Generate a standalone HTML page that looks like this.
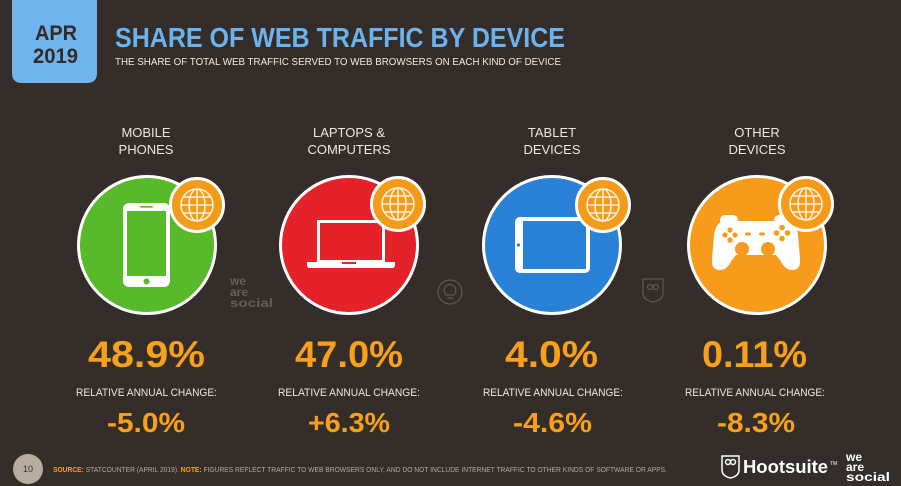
<!DOCTYPE html>
<html><head><meta charset="utf-8"><style>
html,body{margin:0;padding:0;background:#342d29;}
svg{display:block;}
text{font-family:"Liberation Sans",sans-serif;}
</style></head><body>
<svg width="901" height="486" viewBox="0 0 901 486" xmlns="http://www.w3.org/2000/svg">
<defs>
<g id="globe">
  <circle cx="0" cy="0" r="26.5" fill="#f59b1a" stroke="#fff" stroke-width="3"/>
  <g fill="none" stroke="#fdf0dc" stroke-width="1.5">
    <circle cx="0" cy="0" r="16"/>
    <ellipse cx="0" cy="0" rx="8" ry="16"/>
    <line x1="0" y1="-16" x2="0" y2="16"/>
    <line x1="-16" y1="0" x2="16" y2="0"/>
    <line x1="-13.9" y1="-8" x2="13.9" y2="-8"/>
    <line x1="-13.9" y1="8" x2="13.9" y2="8"/>
  </g>
</g>
</defs>
<rect width="901" height="486" fill="#342d29"/>

<!-- badge -->
<path d="M12,0 H97 V73 Q97,83 87,83 H22 Q12,83 12,73 Z" fill="#6fb4ec"/>
<text x="35" y="40" font-size="21" font-weight="bold" fill="#332b27" textLength="42" lengthAdjust="spacingAndGlyphs">APR</text>
<text x="33" y="63" font-size="21" font-weight="bold" fill="#332b27" textLength="45" lengthAdjust="spacingAndGlyphs">2019</text>

<!-- title -->
<text x="115" y="47" font-size="28" font-weight="bold" fill="#6cb3ee" textLength="450" lengthAdjust="spacingAndGlyphs">SHARE OF WEB TRAFFIC BY DEVICE</text>
<text x="115" y="65" font-size="10" fill="#efe9e3" textLength="446" lengthAdjust="spacingAndGlyphs">THE SHARE OF TOTAL WEB TRAFFIC SERVED TO WEB BROWSERS ON EACH KIND OF DEVICE</text>

<!-- category labels -->
<g font-size="13" fill="#ebe6e1" text-anchor="middle">
  <text x="146" y="137">MOBILE</text><text x="146" y="154">PHONES</text>
  <text x="349" y="137">LAPTOPS &amp;</text><text x="349" y="154">COMPUTERS</text>
  <text x="552" y="137">TABLET</text><text x="552" y="154">DEVICES</text>
  <text x="757" y="137">OTHER</text><text x="757" y="154">DEVICES</text>
</g>

<!-- circles -->
<circle cx="147" cy="245" r="68.5" fill="#58b92b" stroke="#fff" stroke-width="3"/>
<circle cx="349" cy="245" r="68.5" fill="#e5212a" stroke="#fff" stroke-width="3"/>
<circle cx="552" cy="245" r="68.5" fill="#2a82d8" stroke="#fff" stroke-width="3"/>
<circle cx="757" cy="245" r="68.5" fill="#f69b1b" stroke="#fff" stroke-width="3"/>

<!-- phone -->
<rect x="123" y="203" width="47" height="84" rx="6" fill="#fff"/>
<rect x="127" y="211" width="39" height="65" fill="#58b92b"/>
<rect x="140" y="206" width="13" height="1.6" rx="0.8" fill="#58b92b"/>
<circle cx="146.5" cy="281.5" r="3" fill="#58b92b"/>

<!-- laptop -->
<rect x="318.5" y="221.5" width="65" height="40" fill="none" stroke="#fff" stroke-width="3"/>
<path d="M307,262 H395 V265 Q395,268 392,268 H310 Q307,268 307,265 Z" fill="#fff"/>
<rect x="342" y="262" width="14" height="2" fill="#e5212a"/>

<!-- tablet -->
<rect x="515" y="217" width="75" height="56" rx="5" fill="#fff"/>
<rect x="523" y="221" width="63" height="48" fill="#2a82d8"/>
<circle cx="518.5" cy="245" r="1.6" fill="#2a82d8"/>

<!-- gamepad -->
<g transform="translate(712,215)">
  <rect x="8" y="0" width="18" height="12" rx="5" fill="#fff"/>
  <rect x="62" y="0" width="18" height="12" rx="5" fill="#fff"/>
  <path d="M14,6 H74 Q84,6 86,20 L88,44 Q89,55 80,55 Q73,55 68,45 L64,40 H24 L20,45 Q15,55 8,55 Q-1,55 0,44 L2,20 Q4,6 14,6 Z" fill="#fff"/>
  <g fill="#f69b1b">
    <circle cx="18" cy="15" r="2.6"/><circle cx="18" cy="25" r="2.6"/>
    <circle cx="13" cy="20" r="2.6"/><circle cx="23" cy="20" r="2.6"/>
    <circle cx="70" cy="12.5" r="2.8"/><circle cx="70" cy="23.5" r="2.8"/>
    <circle cx="64.5" cy="18" r="2.8"/><circle cx="75.5" cy="18" r="2.8"/>
    <circle cx="30" cy="34" r="7"/><circle cx="56" cy="34" r="7"/>
    <rect x="33" y="17.5" width="6" height="3" rx="1.5"/>
    <rect x="47" y="17.5" width="6" height="3" rx="1.5"/>
  </g>
</g>

<!-- globe badges -->
<use href="#globe" x="197" y="205"/>
<use href="#globe" x="398" y="204"/>
<use href="#globe" x="603" y="205"/>
<use href="#globe" x="806" y="204"/>

<!-- watermarks -->
<g font-size="12" font-weight="bold" fill="#665e58">
  <text x="230" y="285">we</text>
  <text x="230" y="296">are</text>
  <text x="230" y="307" textLength="43" lengthAdjust="spacingAndGlyphs">social</text>
</g>
<g fill="none" stroke="#5f5853" stroke-width="1.2">
  <circle cx="450" cy="292" r="12"/>
  <path d="M446,295 Q443,291 445,287 Q450,282 455,287 Q457,291 454,295 Z"/>
  <line x1="447" y1="298" x2="453" y2="298"/>
  <path d="M643,279 H663 V293 Q663,300 653,302 Q643,300 643,293 Z"/>
  <circle cx="650" cy="287" r="2.5"/><circle cx="656" cy="287" r="2.5"/>
</g>

<!-- big numbers -->
<g font-size="37" font-weight="bold" fill="#f7a11b">
  <text x="88" y="367" textLength="117" lengthAdjust="spacingAndGlyphs">48.9%</text>
  <text x="295" y="367" textLength="108" lengthAdjust="spacingAndGlyphs">47.0%</text>
  <text x="505" y="367" textLength="93" lengthAdjust="spacingAndGlyphs">4.0%</text>
  <text x="702" y="367" textLength="105" lengthAdjust="spacingAndGlyphs">0.11%</text>
</g>
<g font-size="11" fill="#ebe6e1">
  <text x="76" y="396" textLength="141" lengthAdjust="spacingAndGlyphs">RELATIVE ANNUAL CHANGE:</text>
  <text x="278" y="396" textLength="142" lengthAdjust="spacingAndGlyphs">RELATIVE ANNUAL CHANGE:</text>
  <text x="483" y="396" textLength="140" lengthAdjust="spacingAndGlyphs">RELATIVE ANNUAL CHANGE:</text>
  <text x="685" y="396" textLength="140" lengthAdjust="spacingAndGlyphs">RELATIVE ANNUAL CHANGE:</text>
</g>
<g font-size="28" font-weight="bold" fill="#f7a11b">
  <text x="107" y="432" textLength="78" lengthAdjust="spacingAndGlyphs">-5.0%</text>
  <text x="308" y="432" textLength="82" lengthAdjust="spacingAndGlyphs">+6.3%</text>
  <text x="513" y="432" textLength="79" lengthAdjust="spacingAndGlyphs">-4.6%</text>
  <text x="717" y="432" textLength="78" lengthAdjust="spacingAndGlyphs">-8.3%</text>
</g>

<!-- footer -->
<circle cx="28" cy="469" r="15" fill="#b7ad9f"/>
<text x="28" y="472" font-size="9" fill="#3a322d" text-anchor="middle">10</text>
<text x="53" y="472" font-size="7" fill="#b3aa9e" textLength="614" lengthAdjust="spacingAndGlyphs"><tspan fill="#f7a11b" font-weight="bold">SOURCE:</tspan> STATCOUNTER (APRIL 2019). <tspan fill="#f7a11b" font-weight="bold">NOTE:</tspan> FIGURES REFLECT  TRAFFIC TO WEB BROWSERS ONLY, AND DO NOT INCLUDE INTERNET TRAFFIC TO OTHER KINDS OF SOFTWARE OR APPS.</text>

<!-- hootsuite -->
<g fill="none" stroke="#fff" stroke-width="1.5">
  <path d="M722,456 H739 V470 Q739,476 730.5,478 Q722,476 722,470 Z"/>
  <circle cx="728" cy="462" r="2.5"/><circle cx="733" cy="462" r="2.5"/>
</g>
<text x="743" y="473" font-size="18" font-weight="bold" fill="#fff" textLength="85" lengthAdjust="spacingAndGlyphs">Hootsuite</text>
<text x="830" y="465" font-size="5" fill="#fff">TM</text>
<g font-size="12" font-weight="bold" fill="#fff">
  <text x="846" y="461">we</text>
  <text x="846" y="471">are</text>
  <text x="846" y="481" textLength="44" lengthAdjust="spacingAndGlyphs">social</text>
</g>
</svg>
</body></html>
